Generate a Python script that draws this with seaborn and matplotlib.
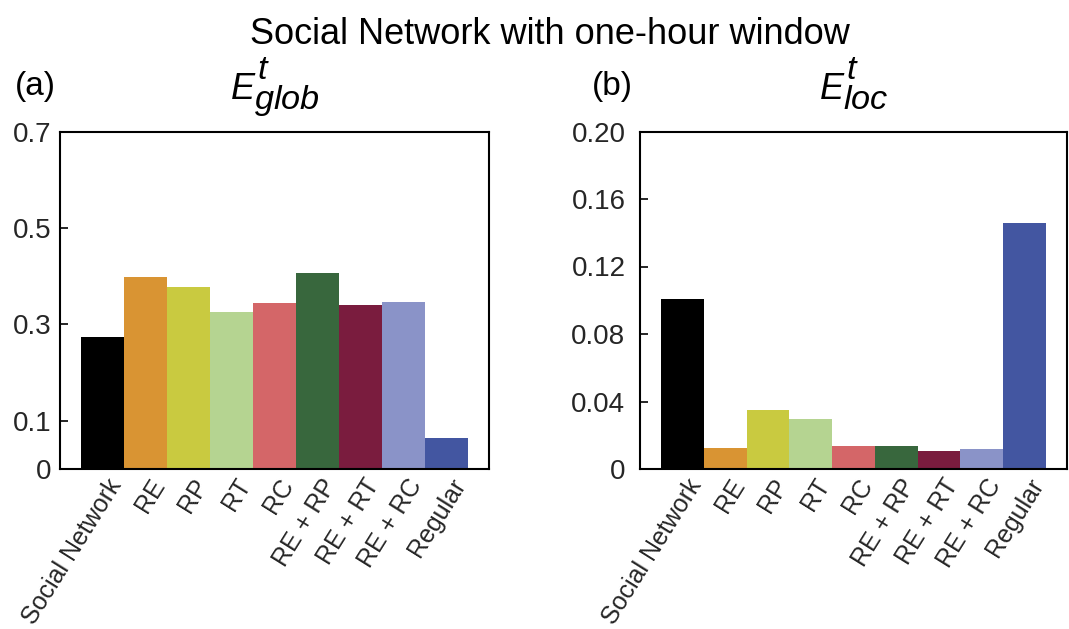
import matplotlib
matplotlib.use("Agg")
import matplotlib.pyplot as plt
import matplotlib.transforms as mtransforms
import seaborn as sns

# Let sub/superscripts in the panel headings render close to full size
try:
    import matplotlib._mathtext as _mt
    _mt.SHRINK_FACTOR = 0.95
except Exception:
    pass

models = ["Social Network", "RE", "RP", "RT", "RC",
          "RE + RP", "RE + RT", "RE + RC", "Regular"]
e_glob = [0.274, 0.398, 0.377, 0.326, 0.344, 0.406, 0.340, 0.346, 0.065]
e_loc = [0.1007, 0.0126, 0.0351, 0.0298, 0.0138, 0.0138, 0.0108, 0.0120, 0.1456]
bar_colors = ["#000000", "#D99433", "#C9CA40", "#B5D491", "#D46668",
              "#38673D", "#7A1C3E", "#8A93C8", "#4356A1"]

glob_ticks = [0, 0.1, 0.3, 0.5, 0.7]
glob_ticklabels = ["0", "0.1", "0.3", "0.5", "0.7"]
loc_ticks = [0, 0.04, 0.08, 0.12, 0.16, 0.20]
loc_ticklabels = ["0", "0.04", "0.08", "0.12", "0.16", "0.20"]

sns.set_theme(style="white")
plt.rcParams["font.family"] = ["Liberation Sans", "DejaVu Sans"]
plt.rcParams["mathtext.fontset"] = "custom"
plt.rcParams["mathtext.it"] = "Liberation Sans:italic"
plt.rcParams["mathtext.rm"] = "Liberation Sans"

fig = plt.figure(figsize=(10.69, 6.29), dpi=100)
W, H = 1069.0, 629.0
ax_a = fig.add_axes([60 / W, (H - 469) / H, 429 / W, 337.5 / H])
ax_b = fig.add_axes([640 / W, (H - 469) / H, 427 / W, 337.5 / H])

tick_color = "#262626"
palette = dict(zip(models, bar_colors))

panels = [
    (ax_a, e_glob, glob_ticks, glob_ticklabels, (0, 0.7), r"$E^{t}_{glob}$", 6),
    (ax_b, e_loc, loc_ticks, loc_ticklabels, (0, 0.20), r"$E^{t}_{loc}$", 10.5),
]

for ax, vals, ticks, ticklabels, ylim, heading, ypad in panels:
    sns.barplot(x=models, y=vals, hue=models, palette=palette, legend=False,
                width=1.0, saturation=1, linewidth=0, ax=ax)
    ax.set_xlim(-1, 9)
    ax.set_ylim(*ylim)
    ax.set_yticks(ticks)
    ax.set_yticklabels(ticklabels)
    ax.set_xlabel("")
    ax.set_ylabel("")
    for sp in ax.spines.values():
        sp.set_visible(True)
        sp.set_color("black")
        sp.set_linewidth(1.5)
    ax.tick_params(axis="y", direction="in", length=6, width=1.2,
                   color="black", pad=ypad, labelsize=20, labelcolor=tick_color,
                   left=True, right=False)
    ax.tick_params(axis="x", length=0, pad=4, labelsize=18,
                   labelcolor=tick_color, bottom=True)
    shift = mtransforms.ScaledTranslation(24 / 100, 0, fig.dpi_scale_trans)
    for lab in ax.get_xticklabels():
        lab.set_rotation(58)
        lab.set_ha("right")
        lab.set_va("top")
        lab.set_transform(lab.get_transform() + shift)
    ax.text(0.5, 1 + 31.5 / 337.5, heading, transform=ax.transAxes,
            ha="center", va="baseline", fontsize=26, color="black")

fig.text(15 / W, 1 - 95 / H, "(a)", ha="left", va="baseline", fontsize=24,
         color="black")
fig.text(592 / W, 1 - 95 / H, "(b)", ha="left", va="baseline", fontsize=24,
         color="black")
fig.text(550 / W, 1 - 44 / H, "Social Network with one-hour window",
         ha="center", va="baseline", fontsize=26, color="black")

fig.savefig("out.png", dpi=100)
